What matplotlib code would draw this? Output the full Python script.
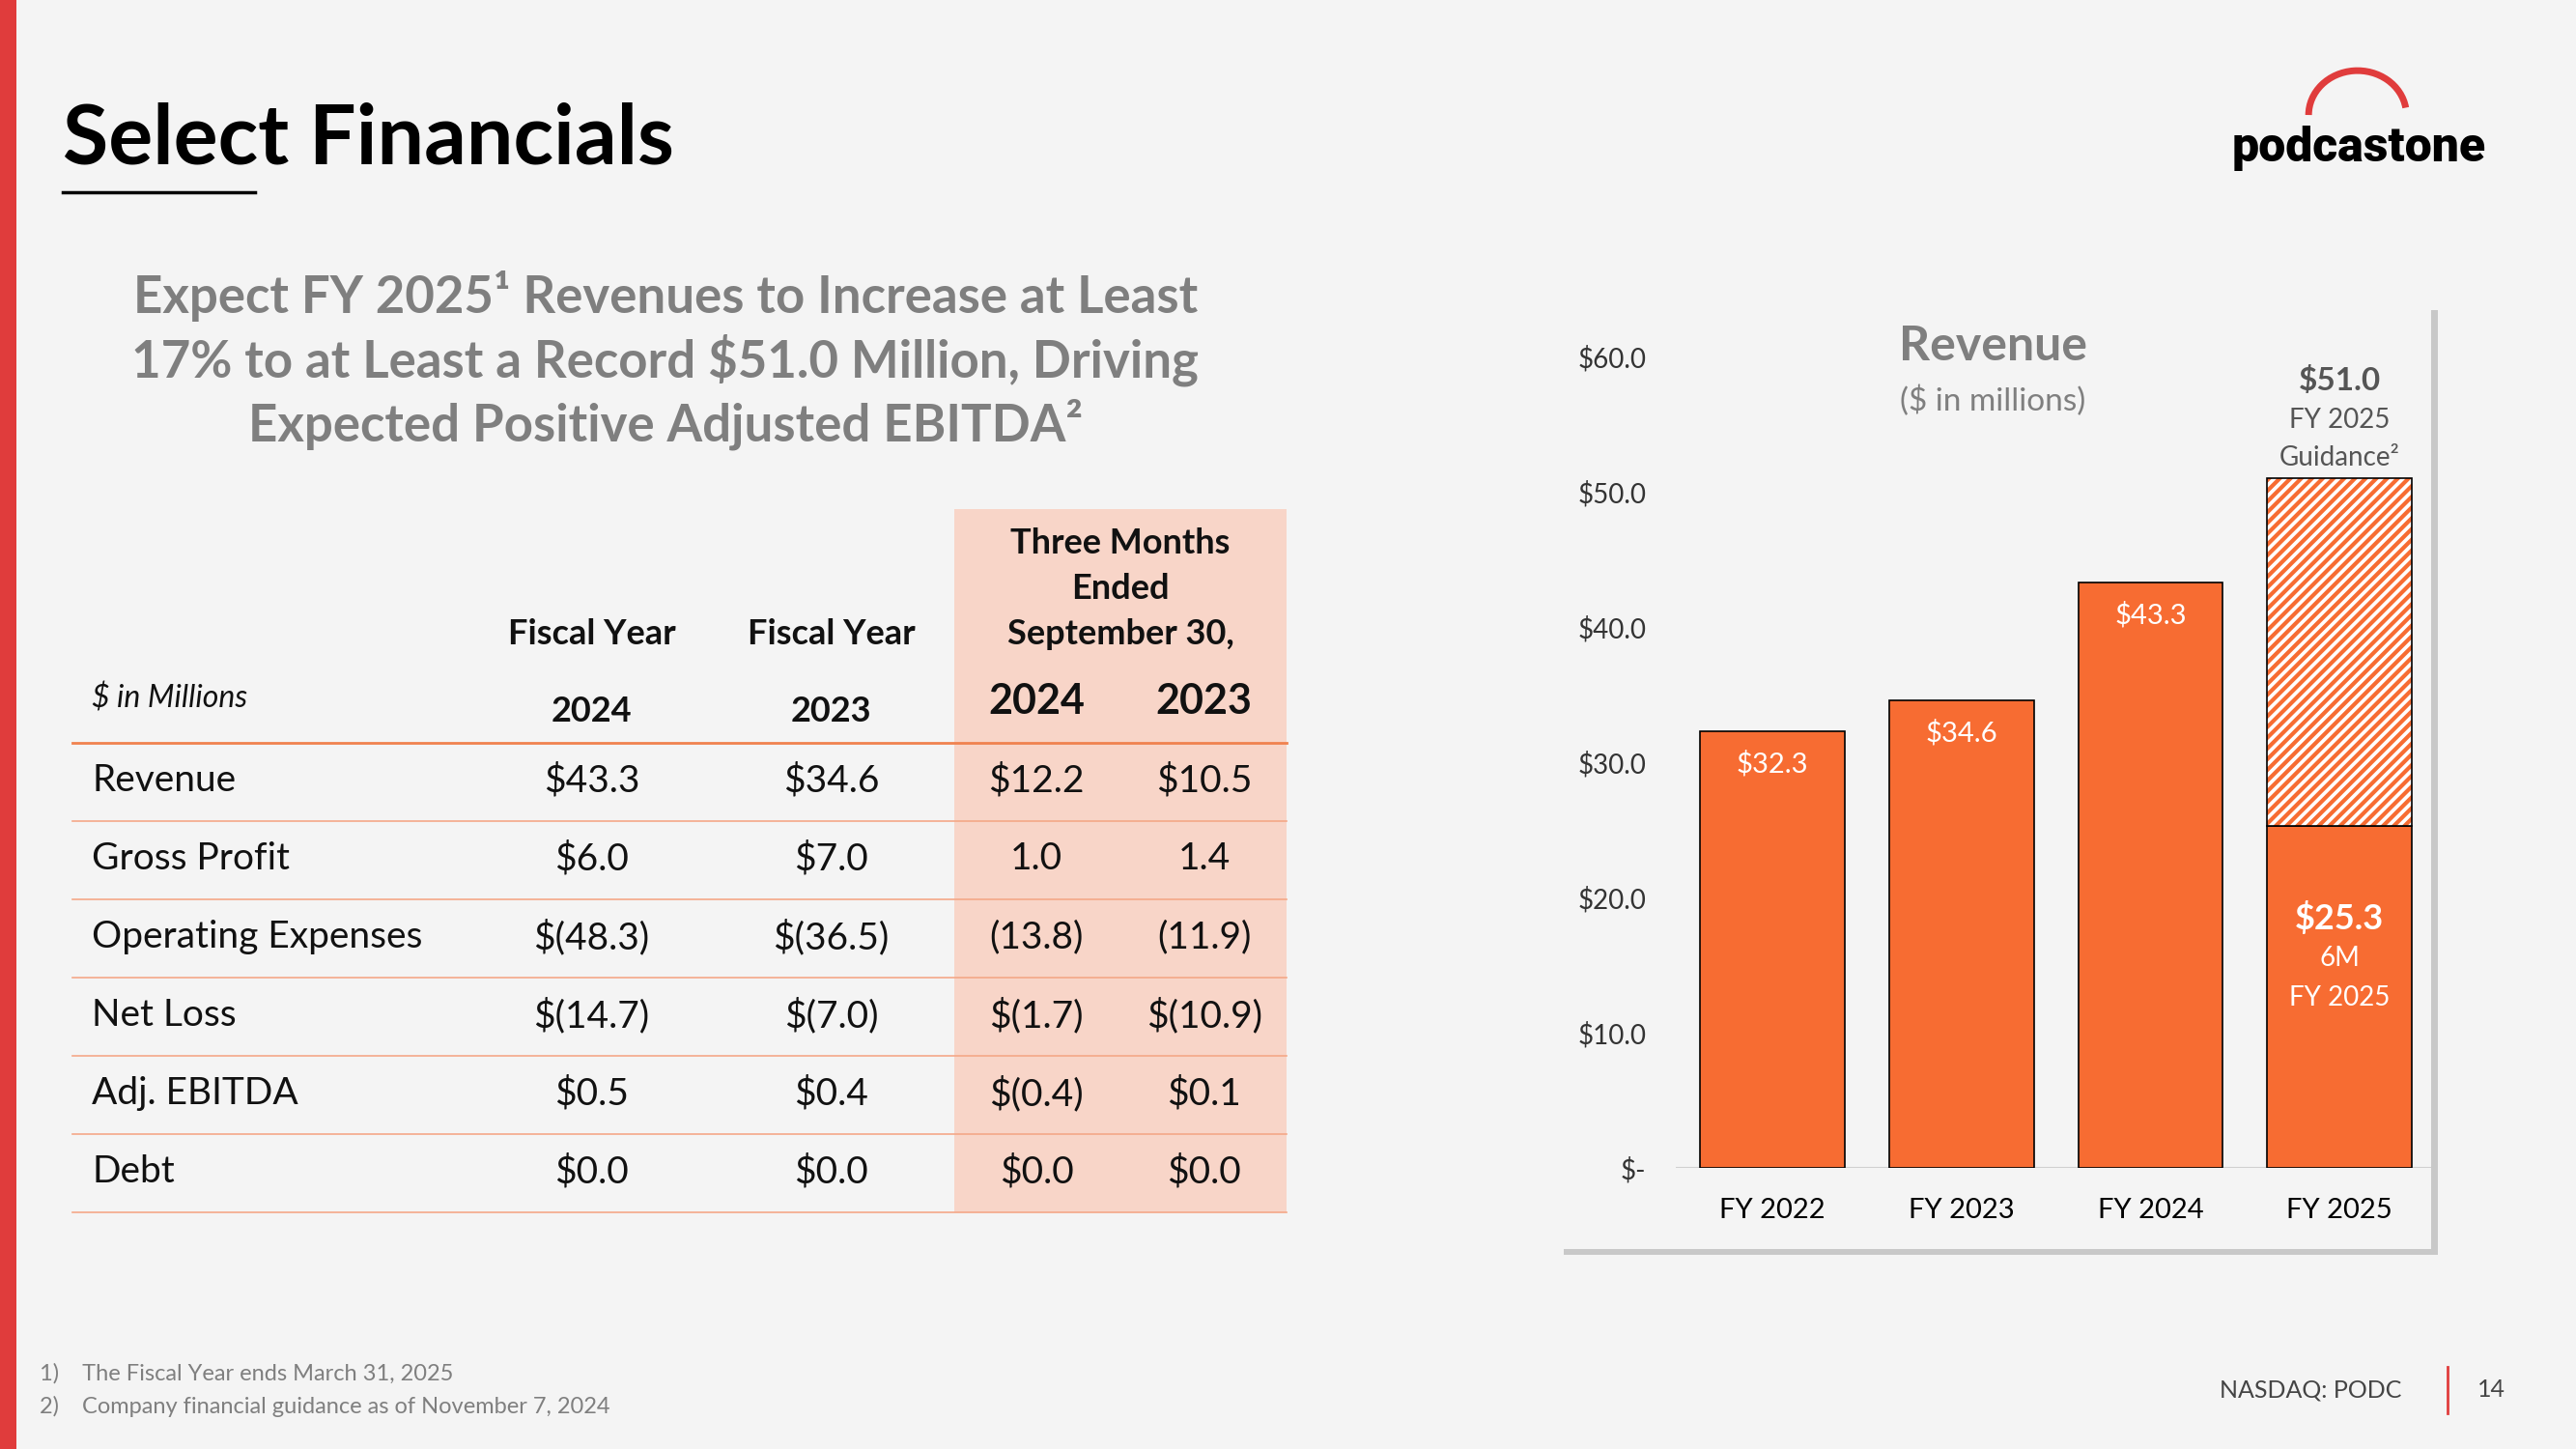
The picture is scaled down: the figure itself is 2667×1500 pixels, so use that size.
import matplotlib
matplotlib.use("Agg")
import matplotlib.pyplot as plt
from matplotlib.patches import Rectangle, Arc
import matplotlib as mpl

plt.rcParams['font.family'] = ['Lato', 'DejaVu Sans']
mpl.rcParams['hatch.linewidth'] = 3

years = ["FY 2022", "FY 2023", "FY 2024", "FY 2025"]
revenue = [32.3, 34.6, 43.3, 25.3]
guidance_total = 51.0
yticks = [0, 10, 20, 30, 40, 50, 60]
ytick_labels = ["$-", "$10.0", "$20.0", "$30.0", "$40.0", "$50.0", "$60.0"]

row_labels = ["Revenue", "Gross Profit", "Operating Expenses", "Net Loss", "Adj. EBITDA", "Debt"]
fy2024 = ["$43.3", "$6.0", "$(48.3)", "$(14.7)", "$0.5", "$0.0"]
fy2023 = ["$34.6", "$7.0", "$(36.5)", "$(7.0)", "$0.4", "$0.0"]
q2024 = ["$12.2", "1.0", "(13.8)", "$(1.7)", "$(0.4)", "$0.0"]
q2023 = ["$10.5", "1.4", "(11.9)", "$(10.9)", "$0.1", "$0.0"]

W, H = 1568, 882
BG = "#F4F4F4"
ORANGE = "#F76C32"
GREY = "#7F7F7F"
fig = plt.figure(figsize=(26.67, 15), dpi=100, facecolor=BG)

def fx(x): return x / W
def fy(y): return 1 - y / H
def T(x, y, s, **kw):
    kw.setdefault("va", "center")
    fig.text(fx(x), fy(y), s, **kw)
def R(x0, y0, x1, y1, **kw):
    fig.add_artist(Rectangle((fx(x0), fy(y1)), fx(x1) - fx(x0), fy(y0) - fy(y1),
                             transform=fig.transFigure, **kw))
def L(x0, y0, x1, y1, **kw):
    fig.add_artist(plt.Line2D([fx(x0), fx(x1)], [fy(y0), fy(y1)], transform=fig.transFigure, **kw))

R(0, 0, 10, H, color="#E03C3C", lw=0)
T(38, 85, "Select Financials", fontsize=62, fontweight="bold", color="black")
L(38, 117, 155, 117, color="black", lw=2.5)

# logo
T(1436, 90, "podcastone", fontsize=36, fontweight="heavy", color="black", ha="center",
  fontstretch="condensed", family=["Roboto", "DejaVu Sans"])
ax_logo = fig.add_axes([fx(1400), fy(100), fx(1470) - fx(1400), fy(40) - fy(100)])
ax_logo.set_xlim(-1, 1); ax_logo.set_ylim(-1, 1); ax_logo.axis("off")
ax_logo.add_patch(Arc((0, 0), 1.7, 1.8, theta1=10, theta2=180, color="#E03C3C", lw=5))

for i, line in enumerate(["Expect FY 2025¹ Revenues to Increase at Least",
                          "17% to at Least a Record $51.0 Million, Driving",
                          "Expected Positive Adjusted EBITDA²"]):
    T(405, 180 + 39 * i, line, fontsize=38, fontweight="bold", color=GREY, ha="center")

# table
R(581, 310, 783, 738, color="#F8D5C8", lw=0)
TXT = "#111111"
for i, s in enumerate(["Three Months", "Ended", "September 30,"]):
    T(682, 331 + 27.5 * i, s, fontsize=26, fontweight="bold", color=TXT, ha="center")
T(360, 386, "Fiscal Year", fontsize=26, fontweight="bold", color=TXT, ha="center")
T(506, 386, "Fiscal Year", fontsize=26, fontweight="bold", color=TXT, ha="center")
T(360, 433, "2024", fontsize=26, fontweight="bold", color=TXT, ha="center")
T(506, 433, "2023", fontsize=26, fontweight="bold", color=TXT, ha="center")
T(631, 427, "2024", fontsize=31, fontweight="bold", color=TXT, ha="center")
T(733, 427, "2023", fontsize=31, fontweight="bold", color=TXT, ha="center")
T(56, 425, "$ in Millions", fontsize=23, style="italic", color=TXT)
L(44, 452, 783, 452, color="#F0824F", lw=2)
for r in range(6):
    y = 475 + 47.7 * r
    T(56, y, row_labels[r], fontsize=28, color=TXT)
    for x, col in zip([360, 506, 631, 733], [fy2024, fy2023, q2024, q2023]):
        T(x, y, col[r], fontsize=28, color=TXT, ha="center")
    L(44, 500 + 47.6 * r, 783, 500 + 47.6 * r, color="#F4A888", lw=1.2)

# chart panel
R(952, 189, 1484, 764, color="#C8C8C8", lw=0)
R(948, 185, 1480, 760, color=BG, lw=0)
ax = fig.add_axes([fx(1020), fy(711), fx(1480) - fx(1020), fy(217) - fy(711)])
ax.set_zorder(5)
ax.set_facecolor("none")
ax.set_xlim(-0.513, 3.487); ax.set_ylim(0, 60)
ax.bar(range(4), revenue, width=0.765, color=ORANGE, edgecolor="black", lw=1.2, zorder=3)
ax.bar([3], [guidance_total - revenue[3]], bottom=[revenue[3]], width=0.765, facecolor="white",
       edgecolor=ORANGE, hatch="///", lw=0, zorder=3)
ax.bar([3], [guidance_total - revenue[3]], bottom=[revenue[3]], width=0.765, facecolor="none",
       edgecolor="black", lw=1.2, zorder=4)
for s in ax.spines.values(): s.set_visible(False)
ax.axhline(0, color="#D0D0D0", lw=1.5, zorder=2)
ax.set_yticks(yticks)
ax.set_yticklabels(ytick_labels, fontsize=20, color="#333333")
ax.tick_params(axis="y", length=0, pad=22)
ax.set_xticks(range(4))
ax.set_xticklabels(years, fontsize=21, color="black")
ax.tick_params(axis="x", length=0, pad=22)
for i in range(3):
    ax.text(i, revenue[i] - 2.4, f"${revenue[i]:.1f}", ha="center", va="center",
            color="white", fontsize=21, zorder=5)
ax.text(3, 18.5, f"${revenue[3]:.1f}", ha="center", va="center", color="white",
        fontsize=26, fontweight="bold", zorder=5)
ax.text(3, 15.5, "6M", ha="center", va="center", color="white", fontsize=20, zorder=5)
ax.text(3, 12.6, "FY 2025", ha="center", va="center", color="white", fontsize=20, zorder=5)
ax.text(3, 58.2, f"${guidance_total:.1f}", ha="center", va="center", color="#555555",
        fontsize=24, fontweight="bold", clip_on=False)
ax.text(3, 55.3, "FY 2025", ha="center", va="center", color="#555555", fontsize=20, clip_on=False)
ax.text(3, 52.5, "Guidance²", ha="center", va="center", color="#555555", fontsize=20, clip_on=False)
T(1213, 211, "Revenue", fontsize=36, fontweight="bold", color=GREY, ha="center")
T(1213, 244, "($ in millions)", fontsize=24, color=GREY, ha="center")

# footer
T(24, 836, "1)    The Fiscal Year ends March 31, 2025", fontsize=17, color=GREY)
T(24, 856, "2)    Company financial guidance as of November 7, 2024", fontsize=17, color=GREY)
T(1462, 846, "NASDAQ: PODC", fontsize=18, color="#444444", ha="right")
L(1490, 832, 1490, 860, color="#E03C3C", lw=2)
T(1508, 846, "14", fontsize=18, color="#444444")

fig.savefig("out.png", dpi=100, facecolor=BG)
